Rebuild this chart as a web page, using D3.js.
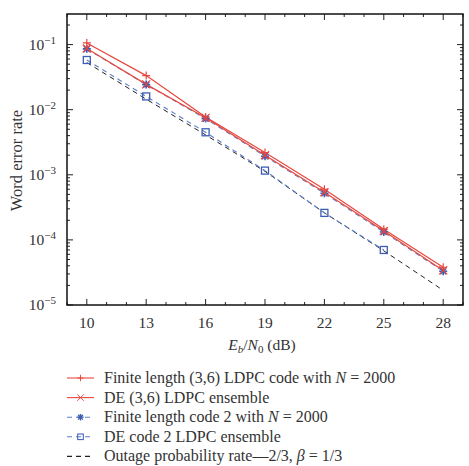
<!DOCTYPE html>
<html>
<head>
<meta charset="utf-8">
<script src="https://cdn.jsdelivr.net/npm/d3@7"></script>
<style>
  body { margin: 0; background: #fff; }
  svg { font-family: "Liberation Serif", "DejaVu Serif", serif; }
</style>
</head>
<body>
<svg id="chart" width="469" height="466"></svg>
<script>
// x values (dB)
const snr = [10, 13, 16, 19, 22, 25, 28];
const snrDE2 = [10, 13, 16, 19, 22, 25];

// series values (word error rate)
const finite36 = [0.106, 0.0334, 0.0077, 0.0022, 0.00060, 0.000146, 0.000038];
const de36 = [0.087, 0.0245, 0.0075, 0.0020, 0.00054, 0.000137, 0.000034];
const finite2 = [0.086, 0.0243, 0.0073, 0.00193, 0.00052, 0.000132, 0.000033];
const de2 = [0.058, 0.016, 0.0045, 0.00116, 0.00026, 0.000070];
const outage = [0.053, 0.0145, 0.0041, 0.00113, 0.00026, 0.000068, 0.0000168];

const xTicks = [10, 13, 16, 19, 22, 25, 28];
const yExps = [-1, -2, -3, -4, -5];

const legendLabels = [
    "Finite length (3,6) LDPC code with ",
    "DE (3,6) LDPC ensemble",
    "Finite length code 2 with ",
    "DE code 2 LDPC ensemble",
    "Outage probability rate\u20142/3, "
];

const red = "#e8473d";
const blue = "#3d5db5";
const lightBlue = "#5b7ec8";
const textCol = "#333";

const svg = d3.select("#chart");
const m = { left: 67, right: 463, top: 14, bottom: 305 };

const x = d3.scaleLinear().domain([9, 29]).range([m.left, m.right]);
const y = d3.scaleLog().domain([1e-5, Math.pow(10, -0.53)]).range([m.bottom, m.top]);

// ticks (inward)
const g = svg.append("g");
const minorX = d3.range(9, 30, 1);
minorX.forEach(v => {
    const major = xTicks.includes(v);
    const len = major ? 6 : 3;
    g.append("line").attr("x1", x(v)).attr("x2", x(v)).attr("y1", m.bottom).attr("y2", m.bottom - len)
        .attr("stroke", "#222").attr("stroke-width", 1);
    g.append("line").attr("x1", x(v)).attr("x2", x(v)).attr("y1", m.top).attr("y2", m.top + len)
        .attr("stroke", "#222").attr("stroke-width", 1);
});
const minorY = [];
for (let e = -5; e <= -1; e++) {
    for (let k = 1; k <= 9; k++) {
        const v = k * Math.pow(10, e);
        if (v <= y.domain()[1]) minorY.push({ v, major: k === 1 });
    }
}
minorY.forEach(t => {
    const len = t.major ? 6 : 3;
    g.append("line").attr("x1", m.left).attr("x2", m.left + len).attr("y1", y(t.v)).attr("y2", y(t.v))
        .attr("stroke", "#222").attr("stroke-width", 1);
    g.append("line").attr("x1", m.right).attr("x2", m.right - len).attr("y1", y(t.v)).attr("y2", y(t.v))
        .attr("stroke", "#222").attr("stroke-width", 1);
});

// tick labels
xTicks.forEach(v => {
    svg.append("text").attr("x", x(v)).attr("y", m.bottom + 23).attr("text-anchor", "middle")
        .attr("font-size", 15.5).attr("fill", textCol).text(v);
});
yExps.forEach(e => {
    const t = svg.append("text").attr("x", m.left - 11).attr("y", y(Math.pow(10, e)) + 5)
        .attr("text-anchor", "end").attr("font-size", 15.5).attr("fill", textCol);
    t.append("tspan").text("10");
    t.append("tspan").attr("dy", -6).attr("font-size", 11).text("\u2212" + (-e));
});

// axis titles
const xt = svg.append("text").attr("x", 262).attr("y", 350).attr("text-anchor", "middle")
    .attr("font-size", 15.5).attr("fill", textCol);
xt.append("tspan").attr("font-style", "italic").text("E");
xt.append("tspan").attr("font-style", "italic").attr("font-size", 11).attr("dy", 3).text("b");
xt.append("tspan").attr("dy", -3).text("/");
xt.append("tspan").attr("font-style", "italic").text("N");
xt.append("tspan").attr("font-size", 11).attr("dy", 3).text("0");
xt.append("tspan").attr("dy", -3).text(" (dB)");

svg.append("text").attr("transform", "translate(22," + ((m.top + m.bottom) / 2 + 1) + ") rotate(-90)")
    .attr("text-anchor", "middle").attr("font-size", 16.5).attr("fill", textCol).text("Word error rate");

// series
const line = d3.line().x(d => x(d[0])).y(d => y(d[1]));
const plot = svg.append("g");

function drawSeries(xs, ys, color, dash, width) {
    const pts = xs.map((v, i) => [v, ys[i]]);
    plot.append("path").datum(pts).attr("d", line).attr("fill", "none")
        .attr("stroke", color).attr("stroke-width", width).attr("stroke-dasharray", dash);
    return pts;
}

function marker(sel, type, cx, cy, color) {
    const s = 4;
    if (type === "plus") {
        sel.append("path").attr("d", `M${cx - s},${cy}H${cx + s}M${cx},${cy - s}V${cy + s}`)
            .attr("stroke", color).attr("stroke-width", 1.2);
    } else if (type === "x") {
        sel.append("path").attr("d", `M${cx - s},${cy - s}L${cx + s},${cy + s}M${cx - s},${cy + s}L${cx + s},${cy - s}`)
            .attr("stroke", color).attr("stroke-width", 1.2);
    } else if (type === "star") {
        sel.append("path").attr("d", `M${cx - s},${cy}H${cx + s}M${cx},${cy - s}V${cy + s}M${cx - 3},${cy - 3}L${cx + 3},${cy + 3}M${cx - 3},${cy + 3}L${cx + 3},${cy - 3}`)
            .attr("stroke", color).attr("stroke-width", 1.6);
    } else if (type === "square") {
        sel.append("rect").attr("x", cx - 3.5).attr("y", cy - 3.5).attr("width", 7).attr("height", 7)
            .attr("fill", "none").attr("stroke", color).attr("stroke-width", 1.3);
    }
}

const outPts = drawSeries(snr, outage, "#222", "5,4", 1);
const de2Pts = drawSeries(snrDE2, de2, lightBlue, "5,4", 1.1);
const f2Pts = drawSeries(snr, finite2, lightBlue, "5,4", 1.1);
const de36Pts = drawSeries(snr, de36, red, null, 1.2);
const f36Pts = drawSeries(snr, finite36, red, null, 1.2);

de2Pts.forEach(p => marker(plot, "square", x(p[0]), y(p[1]), blue));
f2Pts.forEach(p => marker(plot, "star", x(p[0]), y(p[1]), blue));
de36Pts.forEach(p => marker(plot, "x", x(p[0]), y(p[1]), red));
f36Pts.forEach(p => marker(plot, "plus", x(p[0]), y(p[1]), red));

// frame
svg.append("rect").attr("x", m.left).attr("y", m.top).attr("width", m.right - m.left).attr("height", m.bottom - m.top)
    .attr("fill", "none").attr("stroke", "#111").attr("stroke-width", 1.5);

// legend
const legend = [
    { color: red, dash: null, m: "plus" },
    { color: red, dash: null, m: "x" },
    { color: lightBlue, dash: "5,4", m: "star", mc: blue },
    { color: lightBlue, dash: "5,4", m: "square", mc: blue },
    { color: "#222", dash: "5,4", m: null }
];
const lg = svg.append("g");
legend.forEach((d, i) => {
    const ly = 378 + i * 19.6;
    lg.append("line").attr("x1", 67).attr("x2", 94).attr("y1", ly).attr("y2", ly)
        .attr("stroke", d.color).attr("stroke-width", 1.1).attr("stroke-dasharray", d.dash);
    if (d.m) {
        const ms = lg.append("g").attr("transform", `translate(${80.5},${ly}) scale(0.8) translate(${-80.5},${-ly})`);
        marker(ms, d.m, 80.5, ly, d.mc || d.color);
    }
    const t = lg.append("text").attr("x", 104).attr("y", ly + 5).attr("font-size", 16).attr("fill", textCol);
    t.append("tspan").text(legendLabels[i]);
    if (i === 0 || i === 2) {
        t.append("tspan").attr("font-style", "italic").text("N");
        t.append("tspan").text(" = 2000");
    }
    if (i === 4) {
        t.append("tspan").attr("font-style", "italic").text("\u03b2");
        t.append("tspan").text(" = 1/3");
    }
});
</script>
</body>
</html>
